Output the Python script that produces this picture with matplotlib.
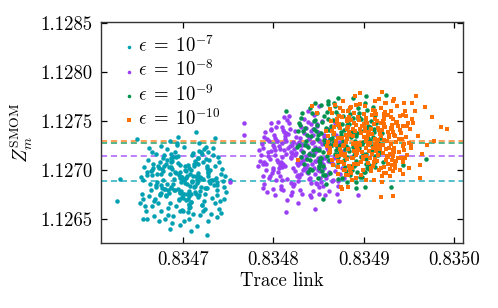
import matplotlib
matplotlib.use("Agg")
import matplotlib.pyplot as plt
from matplotlib.ticker import FixedLocator, FormatStrFormatter

plt.rcParams['font.family'] = 'serif'
plt.rcParams['font.serif'] = ['cmr10', 'DejaVu Serif']
plt.rcParams['mathtext.fontset'] = 'cm'
plt.rcParams['axes.formatter.use_mathtext'] = True
plt.rcParams['axes.unicode_minus'] = False

labels = [r'$\epsilon\;=\;10^{-7}$', r'$\epsilon\;=\;10^{-8}$', r'$\epsilon\;=\;10^{-9}$', r'$\epsilon\;=\;10^{-10}$']
colors = ['#00a0b2', '#9b3ff7', '#00914e', '#ff7000']
mean_lines = [1.126885, 1.127143, 1.127280, 1.127297]
x_ticks = [0.8347, 0.8348, 0.8349, 0.8350]
y_ticks = [1.1265, 1.1270, 1.1275, 1.1280, 1.1285]

cyan_points = [
    (0.834697, 1.12698), (0.834712, 1.12683), (0.834682, 1.12710), (0.834705, 1.12670), (0.834722, 1.12691),
    (0.834691, 1.12718), (0.834700, 1.12676), (0.834715, 1.12687), (0.834675, 1.12696), (0.834708, 1.12662),
    (0.834686, 1.12703), (0.834703, 1.12692), (0.834719, 1.12679), (0.834694, 1.12707), (0.834670, 1.12685),
    (0.834711, 1.12655), (0.834727, 1.12700), (0.834698, 1.12688), (0.834689, 1.12713), (0.834706, 1.12673),
    (0.834716, 1.12694), (0.834680, 1.12681), (0.834709, 1.12667), (0.834696, 1.12705), (0.834733, 1.12690),
    (0.834684, 1.12677), (0.834701, 1.12723), (0.834713, 1.12684), (0.834692, 1.12697), (0.834724, 1.12660),
    (0.834673, 1.12702), (0.834704, 1.12686), (0.834687, 1.12708), (0.834718, 1.12674), (0.834699, 1.12693),
    (0.834707, 1.12650), (0.834678, 1.12699), (0.834729, 1.12689), (0.834695, 1.12669), (0.834710, 1.12715),
    (0.834683, 1.12680), (0.834702, 1.12704), (0.834721, 1.12664), (0.834690, 1.12691), (0.834665, 1.12695),
    (0.834714, 1.12675), (0.834693, 1.12728), (0.834726, 1.12682), (0.834681, 1.12706), (0.834705, 1.12657),
    (0.834738, 1.12688), (0.834688, 1.12701), (0.834700, 1.12671), (0.834717, 1.12712), (0.834676, 1.12685),
    (0.834708, 1.12696), (0.834697, 1.12678), (0.834711, 1.12717), (0.834685, 1.12666), (0.834720, 1.12692),
    (0.834702, 1.12687), (0.834672, 1.12704), (0.834706, 1.12661), (0.834691, 1.12698), (0.834731, 1.12690),
    (0.834696, 1.12644), (0.834713, 1.12709), (0.834679, 1.12681), (0.834709, 1.12700), (0.834699, 1.12672),
    (0.834723, 1.12721), (0.834686, 1.12683), (0.834704, 1.12694), (0.834668, 1.12668), (0.834716, 1.12689),
    (0.834694, 1.12714), (0.834701, 1.12676), (0.834728, 1.12697), (0.834689, 1.12653), (0.834707, 1.12702),
    (0.834682, 1.12686), (0.834712, 1.12706), (0.834698, 1.12679), (0.834735, 1.12733), (0.834692, 1.12663),
    (0.834719, 1.12693), (0.834674, 1.12674), (0.834703, 1.12699), (0.834710, 1.12688), (0.834687, 1.12682),
    (0.834725, 1.12711), (0.834695, 1.12670), (0.834660, 1.12695), (0.834715, 1.12691), (0.834700, 1.12658),
    (0.834684, 1.12703), (0.834708, 1.12684), (0.834721, 1.12716), (0.834697, 1.12677), (0.834678, 1.12690),
    (0.834706, 1.12665), (0.834714, 1.12707), (0.834690, 1.12680), (0.834702, 1.12700), (0.834730, 1.12687),
    (0.834693, 1.12725), (0.834681, 1.12673), (0.834711, 1.12694), (0.834699, 1.12659), (0.834717, 1.12697),
    (0.834671, 1.12688), (0.834705, 1.12705), (0.834709, 1.12675), (0.834688, 1.12709), (0.834724, 1.12682),
    (0.834696, 1.12692), (0.834701, 1.12648), (0.834677, 1.12701), (0.834713, 1.12678), (0.834692, 1.12713),
    (0.834737, 1.12685), (0.834685, 1.12696), (0.834703, 1.12669), (0.834718, 1.12719), (0.834694, 1.12681),
    (0.834710, 1.12689), (0.834667, 1.12702), (0.834707, 1.12664), (0.834698, 1.12693), (0.834722, 1.12708),
    (0.834689, 1.12686), (0.834704, 1.12676), (0.834727, 1.12698), (0.834683, 1.12654), (0.834700, 1.12691),
    (0.834712, 1.12704), (0.834691, 1.12680), (0.834679, 1.12715), (0.834716, 1.12672), (0.834695, 1.12695),
    (0.834709, 1.12667), (0.834664, 1.12699), (0.834720, 1.12683), (0.834701, 1.12690), (0.834686, 1.12712),
    (0.834706, 1.12679), (0.834697, 1.12658), (0.834726, 1.12702), (0.834675, 1.12677), (0.834714, 1.12694),
    (0.834662, 1.12673), (0.834742, 1.12696), (0.834670, 1.12716), (0.834735, 1.12666), (0.834655, 1.12690),
    (0.834740, 1.12708), (0.834680, 1.12650), (0.834725, 1.12723), (0.834658, 1.12663), (0.834731, 1.12655),
    (0.834667, 1.12706), (0.834745, 1.12683), (0.834675, 1.12658), (0.834718, 1.12728), (0.834660, 1.12698),
    (0.834738, 1.12674), (0.834685, 1.12730), (0.834728, 1.12648), (0.834664, 1.12680), (0.834733, 1.12715),
    (0.834672, 1.12666), (0.834743, 1.12701), (0.834656, 1.12670), (0.834722, 1.12658), (0.834682, 1.12721),
    (0.834736, 1.12692), (0.834668, 1.12653), (0.834729, 1.12710), (0.834653, 1.12693), (0.834740, 1.12660),
    (0.834678, 1.12712), (0.834715, 1.12643), (0.834665, 1.12718), (0.834747, 1.12678), (0.834674, 1.12676),
    (0.834720, 1.12718), (0.834661, 1.12710), (0.834734, 1.12685), (0.834688, 1.12646), (0.834726, 1.12704),
    (0.834659, 1.12658), (0.834739, 1.12713), (0.834671, 1.12696), (0.834732, 1.12671), (0.834676, 1.12724),
    (0.834744, 1.12689), (0.834663, 1.12686), (0.834721, 1.12664), (0.834683, 1.12661), (0.834730, 1.12700),
    (0.834657, 1.12703), (0.834737, 1.12652), (0.834673, 1.12648), (0.834724, 1.12676), (0.834666, 1.12700),
    (0.834741, 1.12668), (0.834679, 1.12704), (0.834727, 1.12718), (0.834654, 1.12676), (0.834716, 1.12712),
    (0.834669, 1.12670), (0.834735, 1.12704), (0.834681, 1.12674), (0.834723, 1.12668), (0.834662, 1.12722),
    (0.834746, 1.12694), (0.834677, 1.12682), (0.834719, 1.12654), (0.834652, 1.12666), (0.834733, 1.12722),
    (0.834686, 1.12716), (0.834738, 1.12680), (0.834660, 1.12650), (0.834728, 1.12694), (0.834674, 1.12708),
    (0.834742, 1.12656), (0.834665, 1.12663), (0.834725, 1.12682), (0.834670, 1.12683), (0.834717, 1.12706),
    (0.834627, 1.12668), (0.834630, 1.12691), (0.834649, 1.12732), (0.834726, 1.12634), (0.834685, 1.12640),
    (0.834709, 1.12638), (0.834714, 1.12739), (0.834694, 1.12734), (0.834752, 1.12690), (0.834745, 1.12670),
    (0.834655, 1.12650),
]

purple_points = [
    (0.834835, 1.12702), (0.834816, 1.12722), (0.834850, 1.12731), (0.834827, 1.12689), (0.834841, 1.12717),
    (0.834808, 1.12708), (0.834830, 1.12744), (0.834846, 1.12696), (0.834821, 1.12726), (0.834857, 1.12712),
    (0.834813, 1.12735), (0.834837, 1.12705), (0.834829, 1.12680), (0.834843, 1.12728), (0.834802, 1.12715),
    (0.834852, 1.12699), (0.834824, 1.12740), (0.834833, 1.12710), (0.834818, 1.12724), (0.834848, 1.12686),
    (0.834810, 1.12703), (0.834839, 1.12733), (0.834861, 1.12720), (0.834826, 1.12694), (0.834815, 1.12751),
    (0.834831, 1.12707), (0.834844, 1.12736), (0.834805, 1.12698), (0.834836, 1.12714), (0.834854, 1.12727),
    (0.834822, 1.12684), (0.834797, 1.12719), (0.834847, 1.12709), (0.834828, 1.12729), (0.834840, 1.12692),
    (0.834811, 1.12741), (0.834834, 1.12701), (0.834859, 1.12723), (0.834819, 1.12713), (0.834803, 1.12690),
    (0.834842, 1.12747), (0.834825, 1.12717), (0.834851, 1.12704), (0.834814, 1.12730), (0.834832, 1.12676),
    (0.834823, 1.12721), (0.834849, 1.12739), (0.834807, 1.12705), (0.834838, 1.12697), (0.834793, 1.12732),
    (0.834845, 1.12716), (0.834820, 1.12687), (0.834855, 1.12706), (0.834830, 1.12725), (0.834817, 1.12755),
    (0.834836, 1.12711), (0.834800, 1.12700), (0.834841, 1.12734), (0.834827, 1.12695), (0.834864, 1.12708),
    (0.834812, 1.12720), (0.834834, 1.12738), (0.834822, 1.12702), (0.834850, 1.12683), (0.834809, 1.12728),
    (0.834831, 1.12713), (0.834846, 1.12723), (0.834804, 1.12710), (0.834839, 1.12691), (0.834818, 1.12742),
    (0.834857, 1.12731), (0.834824, 1.12699), (0.834833, 1.12718), (0.834796, 1.12694), (0.834843, 1.12706),
    (0.834829, 1.12733), (0.834853, 1.12688), (0.834814, 1.12716), (0.834837, 1.12726), (0.834821, 1.12678),
    (0.834848, 1.12745), (0.834806, 1.12724), (0.834826, 1.12707), (0.834840, 1.12715), (0.834862, 1.12698),
    (0.834816, 1.12737), (0.834835, 1.12703), (0.834810, 1.12713), (0.834844, 1.12729), (0.834828, 1.12693),
    (0.834801, 1.12723), (0.834838, 1.12749), (0.834854, 1.12711), (0.834823, 1.12686), (0.834831, 1.12720),
    (0.834813, 1.12704), (0.834842, 1.12740), (0.834819, 1.12712), (0.834858, 1.12695), (0.834826, 1.12727),
    (0.834808, 1.12681), (0.834847, 1.12719), (0.834833, 1.12700), (0.834794, 1.12714), (0.834839, 1.12732),
    (0.834815, 1.12691), (0.834851, 1.12722), (0.834829, 1.12708), (0.834836, 1.12743), (0.834804, 1.12730),
    (0.834845, 1.12702), (0.834821, 1.12717), (0.834866, 1.12690), (0.834825, 1.12734), (0.834841, 1.12674),
    (0.834811, 1.12706), (0.834832, 1.12725), (0.834849, 1.12712), (0.834817, 1.12748), (0.834837, 1.12698),
    (0.834799, 1.12702), (0.834856, 1.12736), (0.834827, 1.12705), (0.834842, 1.12687), (0.834807, 1.12721),
    (0.834822, 1.12729), (0.834846, 1.12709), (0.834830, 1.12696), (0.834812, 1.12739), (0.834861, 1.12724),
    (0.834824, 1.12715), (0.834839, 1.12701), (0.834802, 1.12733), (0.834852, 1.12692), (0.834819, 1.12718),
    (0.834834, 1.12752), (0.834790, 1.12708), (0.834844, 1.12679),
    (0.834868, 1.12699), (0.834788, 1.12722), (0.834860, 1.12742), (0.834795, 1.12692), (0.834875, 1.12716),
    (0.834790, 1.12734), (0.834850, 1.12676), (0.834805, 1.12749), (0.834872, 1.12689), (0.834799, 1.12681),
    (0.834863, 1.12732), (0.834785, 1.12709), (0.834855, 1.12684), (0.834812, 1.12754), (0.834870, 1.12724),
    (0.834792, 1.12700), (0.834845, 1.12756), (0.834802, 1.12674), (0.834866, 1.12706), (0.834797, 1.12741),
    (0.834858, 1.12692), (0.834787, 1.12727), (0.834874, 1.12696), (0.834808, 1.12684), (0.834848, 1.12747),
    (0.834794, 1.12718), (0.834862, 1.12679), (0.834801, 1.12736), (0.834877, 1.12719), (0.834790, 1.12686),
    (0.834852, 1.12738), (0.834815, 1.12669), (0.834865, 1.12744), (0.834783, 1.12704), (0.834856, 1.12702),
    (0.834810, 1.12744), (0.834869, 1.12736), (0.834796, 1.12711), (0.834842, 1.12672), (0.834804, 1.12730),
    (0.834871, 1.12684), (0.834791, 1.12739), (0.834859, 1.12722), (0.834798, 1.12697), (0.834854, 1.12750),
    (0.834786, 1.12715), (0.834867, 1.12712), (0.834809, 1.12690), (0.834847, 1.12687), (0.834800, 1.12726),
    (0.834873, 1.12729), (0.834793, 1.12678), (0.834857, 1.12674), (0.834806, 1.12702), (0.834864, 1.12726),
    (0.834789, 1.12694), (0.834851, 1.12730), (0.834803, 1.12744), (0.834876, 1.12702), (0.834814, 1.12738),
    (0.834861, 1.12696), (0.834795, 1.12730), (0.834849, 1.12700), (0.834807, 1.12694), (0.834868, 1.12748),
    (0.834784, 1.12720), (0.834853, 1.12708), (0.834811, 1.12680), (0.834878, 1.12692), (0.834797, 1.12748),
    (0.834844, 1.12742), (0.834792, 1.12706), (0.834870, 1.12676), (0.834802, 1.12720), (0.834856, 1.12734),
    (0.834788, 1.12682), (0.834865, 1.12689), (0.834805, 1.12708), (0.834860, 1.12709), (0.834813, 1.12732),
    (0.834850, 1.12765), (0.834838, 1.12760), (0.834767, 1.12748), (0.834767, 1.12736), (0.834797, 1.12742),
    (0.834788, 1.12706), (0.834814, 1.12657), (0.834827, 1.12666), (0.834846, 1.12660), (0.834819, 1.12674),
    (0.834873, 1.12668), (0.834894, 1.12674), (0.834752, 1.12688),
]

green_points = [
    (0.834863, 1.12732), (0.834881, 1.12713), (0.834848, 1.12746), (0.834888, 1.12737), (0.834870, 1.12704),
    (0.834895, 1.12722), (0.834855, 1.12718), (0.834877, 1.12755), (0.834903, 1.12742), (0.834865, 1.12725),
    (0.834885, 1.12695), (0.834842, 1.12735), (0.834873, 1.12744), (0.834892, 1.12709), (0.834859, 1.12759),
    (0.834899, 1.12729), (0.834868, 1.12716), (0.834882, 1.12750), (0.834851, 1.12702), (0.834909, 1.12719),
    (0.834875, 1.12739), (0.834857, 1.12727), (0.834887, 1.12700), (0.834846, 1.12751), (0.834879, 1.12721),
    (0.834894, 1.12763), (0.834862, 1.12741), (0.834871, 1.12708), (0.834905, 1.12733), (0.834853, 1.12712),
    (0.834884, 1.12747), (0.834838, 1.12723), (0.834890, 1.12717), (0.834867, 1.12768), (0.834876, 1.12692),
    (0.834897, 1.12752), (0.834860, 1.12728), (0.834913, 1.12714), (0.834849, 1.12736), (0.834880, 1.12724),
    (0.834872, 1.12756), (0.834891, 1.12706), (0.834844, 1.12715), (0.834886, 1.12734), (0.834864, 1.12745),
    (0.834901, 1.12698), (0.834856, 1.12731), (0.834878, 1.12710), (0.834833, 1.12740), (0.834893, 1.12738),
    (0.834869, 1.12720), (0.834883, 1.12761), (0.834852, 1.12707), (0.834907, 1.12744), (0.834874, 1.12726),
    (0.834861, 1.12752), (0.834889, 1.12715), (0.834840, 1.12701), (0.834898, 1.12727), (0.834866, 1.12737),
    (0.834881, 1.12688), (0.834854, 1.12749), (0.834916, 1.12728), (0.834871, 1.12713), (0.834887, 1.12740),
    (0.834847, 1.12721), (0.834895, 1.12754), (0.834863, 1.12697), (0.834877, 1.12730), (0.834903, 1.12711),
    (0.834858, 1.12743), (0.834835, 1.12726), (0.834884, 1.12719), (0.834868, 1.12765), (0.834892, 1.12735),
    (0.834850, 1.12709), (0.834879, 1.12703), (0.834900, 1.12748), (0.834865, 1.12733), (0.834843, 1.12758),
    (0.834888, 1.12723), (0.834873, 1.12717), (0.834911, 1.12739), (0.834855, 1.12704), (0.834882, 1.12743),
    (0.834859, 1.12714), (0.834896, 1.12693), (0.834876, 1.12747), (0.834848, 1.12732), (0.834885, 1.12757),
    (0.834870, 1.12724), (0.834906, 1.12705), (0.834853, 1.12738), (0.834880, 1.12699), (0.834861, 1.12767),
    (0.834890, 1.12730), (0.834837, 1.12711), (0.834875, 1.12736), (0.834899, 1.12716), (0.834866, 1.12751),
    (0.834921, 1.12708), (0.834857, 1.12695), (0.834883, 1.12722), (0.834845, 1.12742), (0.834894, 1.12725),
    (0.834869, 1.12759), (0.834904, 1.12702), (0.834851, 1.12720), (0.834878, 1.12741), (0.834888, 1.12753),
    (0.834872, 1.12691), (0.834828, 1.12748), (0.834910, 1.12734), (0.834862, 1.12710), (0.834881, 1.12746),
    (0.834854, 1.12699), (0.834897, 1.12713), (0.834867, 1.12729), (0.834886, 1.12704), (0.834918, 1.12718),
    (0.834835, 1.12743), (0.834915, 1.12720), (0.834843, 1.12700), (0.834908, 1.12750), (0.834828, 1.12726),
    (0.834913, 1.12708), (0.834853, 1.12766), (0.834898, 1.12693), (0.834831, 1.12753), (0.834904, 1.12761),
    (0.834840, 1.12710), (0.834918, 1.12733), (0.834848, 1.12758), (0.834891, 1.12688), (0.834833, 1.12718),
    (0.834911, 1.12742), (0.834858, 1.12686), (0.834901, 1.12768), (0.834837, 1.12736), (0.834906, 1.12701),
    (0.834845, 1.12750), (0.834916, 1.12715), (0.834829, 1.12746), (0.834895, 1.12758), (0.834855, 1.12695),
    (0.834909, 1.12724), (0.834841, 1.12763), (0.834902, 1.12706), (0.834826, 1.12723), (0.834913, 1.12756),
    (0.834851, 1.12704), (0.834888, 1.12773), (0.834838, 1.12698), (0.834920, 1.12738), (0.834847, 1.12740),
    (0.834893, 1.12698), (0.834834, 1.12706), (0.834907, 1.12731), (0.834861, 1.12770), (0.834899, 1.12712),
    (0.834832, 1.12758), (0.834912, 1.12703), (0.834844, 1.12720), (0.834905, 1.12745), (0.834849, 1.12692),
    (0.834917, 1.12727), (0.834836, 1.12730), (0.834894, 1.12752), (0.834856, 1.12755), (0.834903, 1.12716),
    (0.834830, 1.12713), (0.834910, 1.12764), (0.834846, 1.12768), (0.834897, 1.12740), (0.834839, 1.12716),
    (0.834914, 1.12748), (0.834852, 1.12712), (0.834900, 1.12698), (0.834827, 1.12740), (0.834889, 1.12704),
    (0.834814, 1.12760), (0.834871, 1.12773), (0.834925, 1.12777), (0.834902, 1.12775), (0.834855, 1.12670),
    (0.834901, 1.12683), (0.834930, 1.12683), (0.834969, 1.12711), (0.834944, 1.12705), (0.834891, 1.12682),
]

orange_points = [
    (0.834905, 1.12725), (0.834888, 1.12742), (0.834921, 1.12750), (0.834897, 1.12708), (0.834928, 1.12734),
    (0.834883, 1.12721), (0.834912, 1.12760), (0.834901, 1.12740), (0.834916, 1.12715), (0.834876, 1.12733),
    (0.834934, 1.12718), (0.834894, 1.12754), (0.834908, 1.12699), (0.834923, 1.12744), (0.834890, 1.12728),
    (0.834870, 1.12749), (0.834914, 1.12723), (0.834941, 1.12738), (0.834899, 1.12713), (0.834919, 1.12763),
    (0.834885, 1.12736), (0.834910, 1.12704), (0.834930, 1.12727), (0.834892, 1.12746), (0.834903, 1.12730),
    (0.834925, 1.12710), (0.834879, 1.12716), (0.834917, 1.12741), (0.834896, 1.12767), (0.834937, 1.12749),
    (0.834906, 1.12719), (0.834887, 1.12702), (0.834922, 1.12731), (0.834874, 1.12743), (0.834913, 1.12752),
    (0.834902, 1.12722), (0.834931, 1.12705), (0.834889, 1.12758), (0.834909, 1.12737), (0.834943, 1.12724),
    (0.834882, 1.12711), (0.834915, 1.12729), (0.834898, 1.12745), (0.834920, 1.12694), (0.834868, 1.12726),
    (0.834927, 1.12756), (0.834893, 1.12717), (0.834904, 1.12748), (0.834933, 1.12714), (0.834884, 1.12739),
    (0.834911, 1.12690), (0.834900, 1.12734), (0.834924, 1.12768), (0.834878, 1.12706), (0.834918, 1.12721),
    (0.834895, 1.12751), (0.834939, 1.12732), (0.834907, 1.12712), (0.834873, 1.12755), (0.834916, 1.12743),
    (0.834891, 1.12724), (0.834929, 1.12701), (0.834901, 1.12765), (0.834912, 1.12727), (0.834886, 1.12697),
    (0.834922, 1.12747), (0.834865, 1.12740), (0.834909, 1.12716), (0.834936, 1.12709), (0.834897, 1.12738),
    (0.834914, 1.12757), (0.834880, 1.12729), (0.834905, 1.12707), (0.834927, 1.12739), (0.834889, 1.12748),
    (0.834932, 1.12720), (0.834899, 1.12700), (0.834919, 1.12735), (0.834875, 1.12715), (0.834910, 1.12761),
    (0.834945, 1.12727), (0.834894, 1.12720), (0.834903, 1.12753), (0.834923, 1.12703), (0.834883, 1.12744),
    (0.834917, 1.12725), (0.834871, 1.12709), (0.834908, 1.12742), (0.834930, 1.12754), (0.834892, 1.12692),
    (0.834913, 1.12732), (0.834902, 1.12714), (0.834938, 1.12745), (0.834888, 1.12735), (0.834921, 1.12717),
    (0.834877, 1.12760), (0.834906, 1.12739), (0.834925, 1.12697), (0.834896, 1.12726), (0.834915, 1.12750),
    (0.834884, 1.12704), (0.834934, 1.12736), (0.834900, 1.12747), (0.834911, 1.12708), (0.834869, 1.12730),
    (0.834928, 1.12722), (0.834891, 1.12766), (0.834920, 1.12741), (0.834898, 1.12718), (0.834942, 1.12712),
    (0.834904, 1.12733), (0.834881, 1.12752), (0.834917, 1.12700), (0.834893, 1.12723), (0.834931, 1.12746),
    (0.834887, 1.12712), (0.834909, 1.12756), (0.834926, 1.12730), (0.834874, 1.12721), (0.834913, 1.12711),
    (0.834901, 1.12743), (0.834935, 1.12706), (0.834885, 1.12763), (0.834918, 1.12737), (0.834897, 1.12695),
    (0.834923, 1.12752), (0.834863, 1.12718), (0.834907, 1.12728), (0.834929, 1.12716), (0.834890, 1.12740),
    (0.834912, 1.12770), (0.834879, 1.12700), (0.834921, 1.12726), (0.834902, 1.12750), (0.834940, 1.12741),
    (0.834894, 1.12706), (0.834914, 1.12719), (0.834872, 1.12746), (0.834905, 1.12736), (0.834932, 1.12699),
    (0.834888, 1.12727), (0.834924, 1.12759), (0.834899, 1.12711), (0.834916, 1.12731), (0.834876, 1.12754),
    (0.834910, 1.12722), (0.834947, 1.12734), (0.834883, 1.12695), (0.834919, 1.12748), (0.834896, 1.12742),
    (0.834927, 1.12713), (0.834892, 1.12715), (0.834936, 1.12729), (0.834867, 1.12737), (0.834908, 1.12702),
    (0.834922, 1.12755), (0.834889, 1.12719), (0.834903, 1.12690), (0.834930, 1.12743), (0.834882, 1.12732),
    (0.834915, 1.12709), (0.834900, 1.12757), (0.834933, 1.12739), (0.834878, 1.12725), (0.834911, 1.12747),
    (0.834895, 1.12728), (0.834925, 1.12721), (0.834886, 1.12751),
    (0.834943, 1.12745), (0.834863, 1.12722), (0.834935, 1.12702), (0.834870, 1.12752), (0.834950, 1.12728),
    (0.834865, 1.12710), (0.834925, 1.12768), (0.834880, 1.12695), (0.834947, 1.12755), (0.834874, 1.12763),
    (0.834938, 1.12712), (0.834860, 1.12735), (0.834930, 1.12760), (0.834887, 1.12690), (0.834945, 1.12720),
    (0.834867, 1.12744), (0.834920, 1.12688), (0.834877, 1.12770), (0.834941, 1.12738), (0.834872, 1.12703),
    (0.834933, 1.12752), (0.834862, 1.12717), (0.834949, 1.12748), (0.834883, 1.12760), (0.834923, 1.12697),
    (0.834869, 1.12726), (0.834937, 1.12765), (0.834876, 1.12708), (0.834952, 1.12725), (0.834865, 1.12758),
    (0.834927, 1.12706), (0.834890, 1.12775), (0.834940, 1.12700), (0.834858, 1.12740), (0.834931, 1.12742),
    (0.834885, 1.12700), (0.834944, 1.12708), (0.834871, 1.12733), (0.834917, 1.12772), (0.834879, 1.12714),
    (0.834946, 1.12760), (0.834866, 1.12705), (0.834934, 1.12722), (0.834873, 1.12747), (0.834929, 1.12694),
    (0.834861, 1.12729), (0.834942, 1.12732), (0.834884, 1.12754), (0.834922, 1.12757), (0.834875, 1.12718),
    (0.834948, 1.12715), (0.834868, 1.12766), (0.834932, 1.12770), (0.834881, 1.12742), (0.834939, 1.12718),
    (0.834864, 1.12750), (0.834926, 1.12714), (0.834878, 1.12700), (0.834951, 1.12742), (0.834889, 1.12706),
    (0.834936, 1.12748), (0.834870, 1.12714), (0.834924, 1.12744), (0.834882, 1.12750), (0.834943, 1.12696),
    (0.834859, 1.12724), (0.834928, 1.12736), (0.834886, 1.12764), (0.834953, 1.12752), (0.834872, 1.12696),
    (0.834919, 1.12702), (0.834867, 1.12738), (0.834945, 1.12768), (0.834877, 1.12724), (0.834931, 1.12710),
    (0.834863, 1.12762), (0.834940, 1.12755), (0.834880, 1.12736), (0.834935, 1.12735), (0.834888, 1.12712),
    (0.834992, 1.12742), (0.834986, 1.12744), (0.834976, 1.12754), (0.834968, 1.12764), (0.834958, 1.12776),
    (0.834978, 1.12730), (0.834950, 1.12702), (0.834962, 1.12692), (0.834896, 1.12779), (0.834920, 1.12780),
    (0.834934, 1.12772), (0.834843, 1.12765), (0.834919, 1.12672), (0.834933, 1.12673), (0.834876, 1.12681),
    (0.834883, 1.12683), (0.834827, 1.12710), (0.834848, 1.12758), (0.834875, 1.12683), (0.834955, 1.12748),
    (0.834960, 1.12735), (0.834952, 1.12722), (0.834965, 1.12716), (0.834957, 1.12760), (0.834948, 1.12745),
    (0.834970, 1.12725), (0.834946, 1.12712), (0.834953, 1.12768), (0.834962, 1.12705), (0.834944, 1.12756),
]

series = [cyan_points, purple_points, green_points, orange_points]
markers = ['o', 'o', 'o', 's']
sizes = [10.5, 10.5, 10.5, 10]

fig = plt.figure(figsize=(4.98, 3.08), dpi=100)
ax = fig.add_axes([101 / 498, 1 - 243 / 308, 362 / 498, 221 / 308])

for m, c in zip(mean_lines, colors):
    ax.axhline(m, color=c, lw=1.1, ls=(0, (4, 2.5)), alpha=0.85, zorder=1)

for pts, c, mk, s, lab in zip(series, colors, markers, sizes, labels):
    xs, ys = zip(*pts)
    ax.scatter(xs, ys, s=s, marker=mk, color=c, linewidths=0, label=lab, zorder=2)

ax.set_xlim(0.834609, 0.835010)
ax.set_ylim(1.126255, 1.128510)
ax.xaxis.set_major_locator(FixedLocator(x_ticks))
ax.yaxis.set_major_locator(FixedLocator(y_ticks))
ax.xaxis.set_major_formatter(FormatStrFormatter('%.4f'))
ax.yaxis.set_major_formatter(FormatStrFormatter('%.4f'))
ax.tick_params(direction='in', top=True, right=True, length=4.5, width=0.9, labelsize=13.5, pad=6)
for sp in ax.spines.values():
    sp.set_linewidth(1.0)
    sp.set_color('#333333')

ax.set_xlabel('Trace link', fontsize=13.5, labelpad=2)
ax.set_ylabel(r'$Z_m^{\mathrm{SMOM}}$', fontsize=14, labelpad=4)

leg = ax.legend(loc='upper left', frameon=False, fontsize=13.5, markerscale=0.8,
                handlelength=0.4, handletextpad=0.3, labelspacing=0.18,
                borderaxespad=0.3, bbox_to_anchor=(0.03, 1.0))

fig.savefig('out.png', dpi=100)
